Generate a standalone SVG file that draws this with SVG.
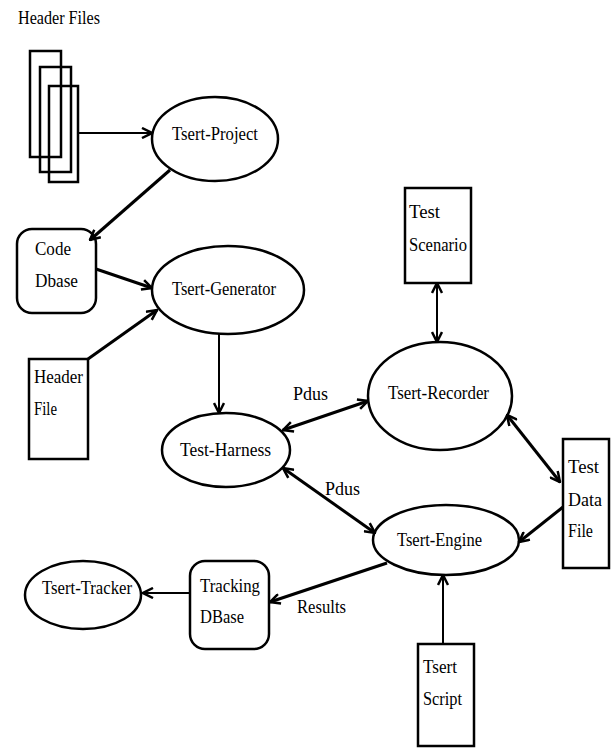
<svg xmlns="http://www.w3.org/2000/svg" width="611" height="748" viewBox="0 0 611 748">
<style>
text{font-family:"Liberation Serif",Tinos,"Noto Serif",FreeSerif,Times,"DejaVu Serif",serif;font-size:18px;fill:#000}
.n{fill:none;stroke:#000;stroke-width:2.5}
.c line{stroke:#000;stroke-width:3}
.c line.t{stroke-width:2}
</style>
<defs>
<marker id="ah" viewBox="0 0 12 12" refX="11" refY="6" markerWidth="12" markerHeight="12" markerUnits="userSpaceOnUse" orient="auto-start-reverse">
<path d="M1,1 L11,6 L1,11" fill="none" stroke="#000" stroke-width="2.5"/>
</marker>
</defs>
<rect width="611" height="748" fill="#fff"/>
<g id="header-files">
<text x="18" y="24" textLength="82" lengthAdjust="spacingAndGlyphs">Header Files</text>
<rect class="n" x="30" y="51" width="31" height="106"/>
<rect class="n" x="40" y="67" width="31" height="105"/>
<rect class="n" x="49" y="86" width="29" height="96"/>
</g>
<g id="tsert-project">
<ellipse class="n" cx="215" cy="139" rx="63" ry="42"/>
<text x="172" y="140" textLength="86" lengthAdjust="spacingAndGlyphs">Tsert-Project</text>
</g>
<g id="code-dbase">
<rect class="n" x="17" y="229" width="79" height="84" rx="15"/>
<text x="35" y="255" textLength="36" lengthAdjust="spacingAndGlyphs">Code</text>
<text x="35" y="287" textLength="43" lengthAdjust="spacingAndGlyphs">Dbase</text>
</g>
<g id="tsert-generator">
<ellipse class="n" cx="228" cy="290" rx="76" ry="44"/>
<text x="172" y="295" textLength="104" lengthAdjust="spacingAndGlyphs">Tsert-Generator</text>
</g>
<g id="header-file">
<rect class="n" x="29" y="359" width="59" height="100"/>
<text x="34" y="383" textLength="49" lengthAdjust="spacingAndGlyphs">Header</text>
<text x="34" y="415" textLength="23" lengthAdjust="spacingAndGlyphs">File</text>
</g>
<g id="test-harness">
<ellipse class="n" cx="226" cy="450" rx="64" ry="37"/>
<text x="180" y="456" textLength="91" lengthAdjust="spacingAndGlyphs">Test-Harness</text>
</g>
<g id="test-scenario">
<rect class="n" x="405" y="188" width="66" height="95"/>
<text x="409" y="218" textLength="31" lengthAdjust="spacingAndGlyphs">Test</text>
<text x="409" y="251" textLength="58" lengthAdjust="spacingAndGlyphs">Scenario</text>
</g>
<g id="tsert-recorder">
<ellipse class="n" cx="440" cy="396" rx="72" ry="54"/>
<text x="388" y="399" textLength="101" lengthAdjust="spacingAndGlyphs">Tsert-Recorder</text>
</g>
<g id="test-data-file">
<rect class="n" x="563" y="439" width="46" height="129"/>
<text x="568" y="473" textLength="31" lengthAdjust="spacingAndGlyphs">Test</text>
<text x="568" y="506" textLength="34" lengthAdjust="spacingAndGlyphs">Data</text>
<text x="568" y="537" textLength="25" lengthAdjust="spacingAndGlyphs">File</text>
</g>
<g id="tsert-engine">
<ellipse class="n" cx="446" cy="540" rx="73" ry="35"/>
<text x="397" y="546" textLength="85" lengthAdjust="spacingAndGlyphs">Tsert-Engine</text>
</g>
<g id="tsert-script">
<rect class="n" x="418" y="644" width="56" height="102"/>
<text x="423" y="673" textLength="34" lengthAdjust="spacingAndGlyphs">Tsert</text>
<text x="423" y="705" textLength="39" lengthAdjust="spacingAndGlyphs">Script</text>
</g>
<g id="tracking-dbase">
<rect class="n" x="190" y="561" width="79" height="88" rx="15"/>
<text x="200" y="592" textLength="60" lengthAdjust="spacingAndGlyphs">Tracking</text>
<text x="200" y="623" textLength="44" lengthAdjust="spacingAndGlyphs">DBase</text>
</g>
<g id="tsert-tracker">
<ellipse class="n" cx="83" cy="595" rx="58" ry="34"/>
<text x="42" y="594" textLength="90" lengthAdjust="spacingAndGlyphs">Tsert-Tracker</text>
</g>
<g id="connectors" class="c">
<line class="t" x1="77" y1="133" x2="152" y2="133" marker-end="url(#ah)"/>
<line x1="170" y1="170" x2="90" y2="240" marker-end="url(#ah)"/>
<line x1="96" y1="269" x2="152" y2="288" marker-end="url(#ah)"/>
<line x1="88" y1="359" x2="157" y2="310" marker-end="url(#ah)"/>
<line class="t" x1="219" y1="334" x2="219" y2="413" marker-end="url(#ah)"/>
<line x1="283" y1="430" x2="368" y2="401" marker-start="url(#ah)" marker-end="url(#ah)"/>
<line class="t" x1="437" y1="283" x2="437" y2="342" marker-start="url(#ah)" marker-end="url(#ah)"/>
<line x1="507" y1="415" x2="560" y2="482" marker-start="url(#ah)" marker-end="url(#ah)"/>
<line x1="563" y1="507" x2="519" y2="542" marker-end="url(#ah)"/>
<line x1="283" y1="468" x2="375" y2="533" marker-start="url(#ah)" marker-end="url(#ah)"/>
<line class="t" x1="443" y1="644" x2="443" y2="575" marker-end="url(#ah)"/>
<line x1="387" y1="563" x2="270" y2="602" marker-end="url(#ah)"/>
<line class="t" x1="190" y1="593" x2="143" y2="593" marker-end="url(#ah)"/>
<text x="293" y="400" textLength="35" lengthAdjust="spacingAndGlyphs">Pdus</text>
<text x="325" y="495" textLength="35" lengthAdjust="spacingAndGlyphs">Pdus</text>
<text x="297" y="613" textLength="49" lengthAdjust="spacingAndGlyphs">Results</text>
</g>
</svg>
